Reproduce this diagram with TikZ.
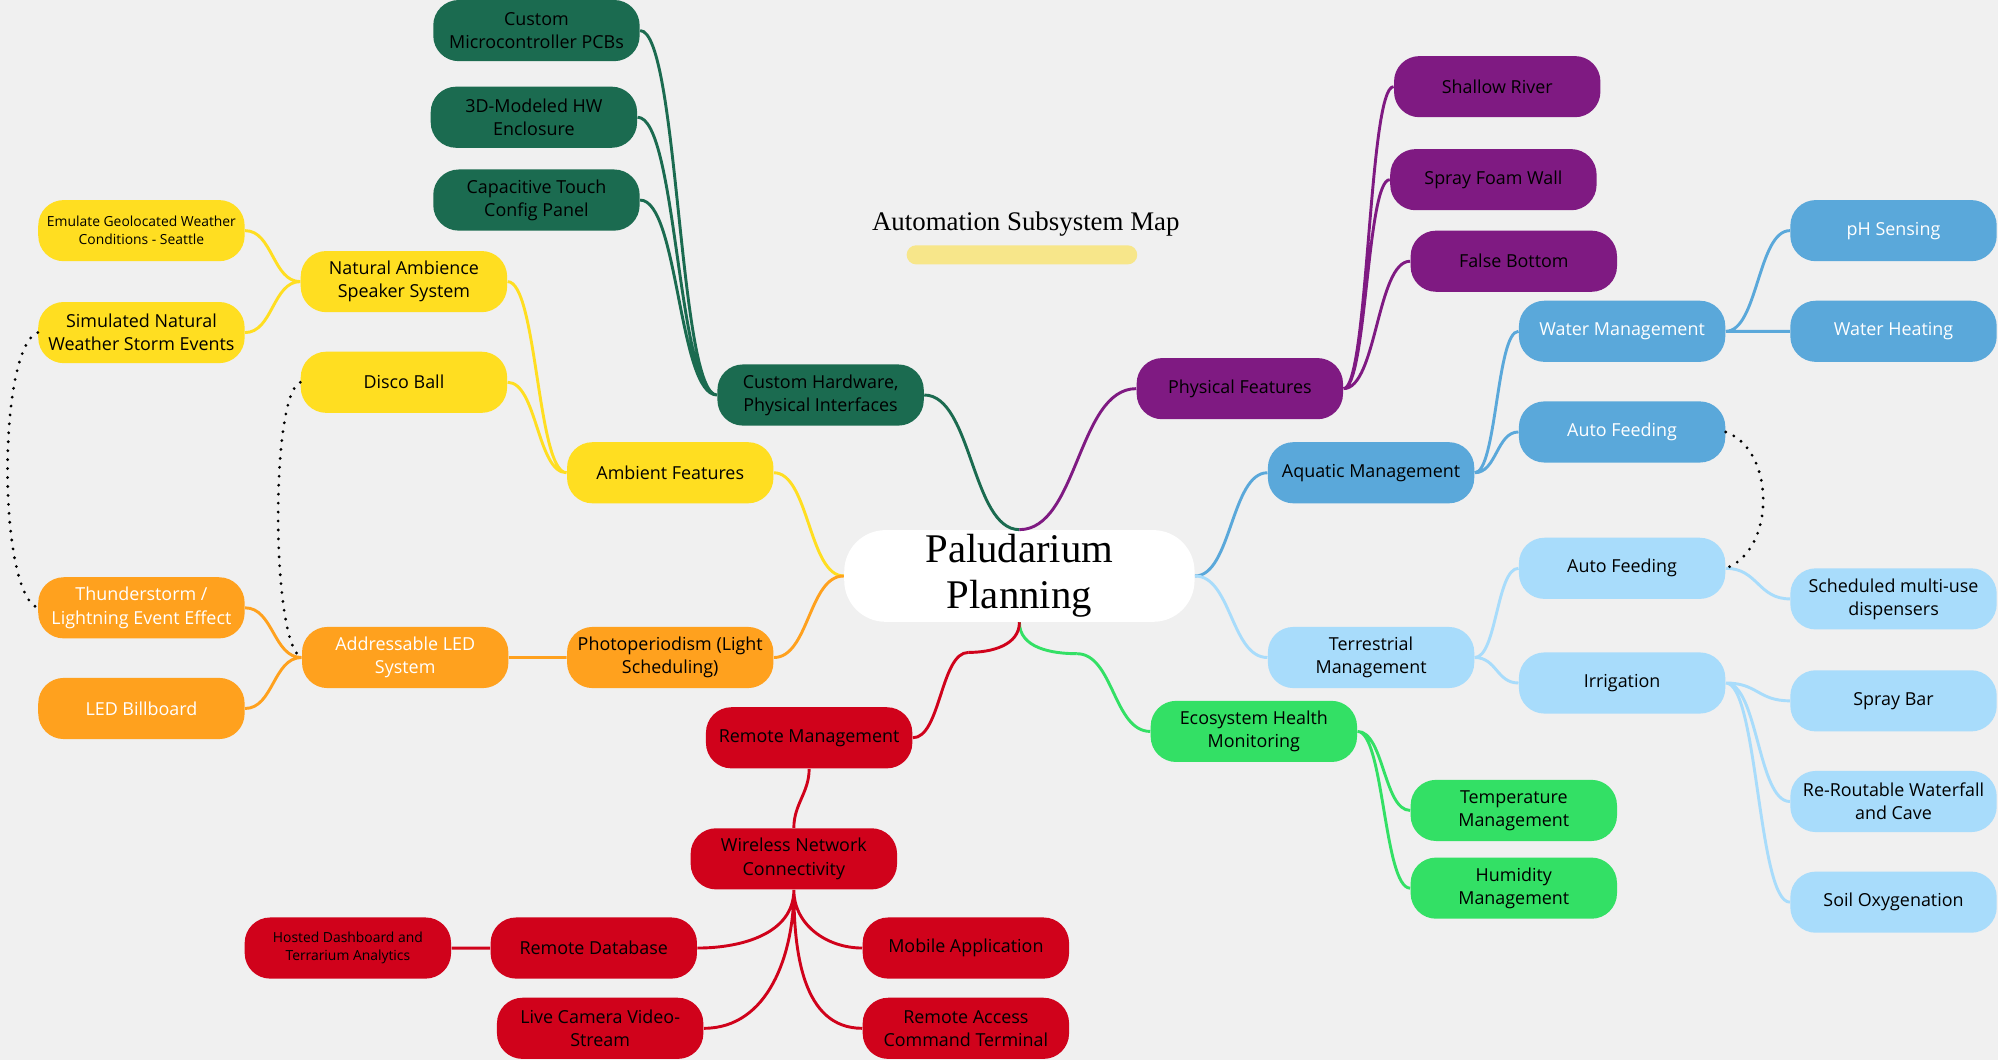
\documentclass[tikz,border=0pt]{standalone}
\usepackage{fontspec}
\setmainfont{Open Sans}
\newfontfamily\serif{Liberation Serif}
\usepackage{tikz}
\usetikzlibrary{calc}

\definecolor{bg}{HTML}{F0F0F0}
\definecolor{hw}{HTML}{1B6B50}
\definecolor{yel}{HTML}{FFDE21}
\definecolor{ora}{HTML}{FFA11E}
\definecolor{pur}{HTML}{7F1A82}
\definecolor{blu}{HTML}{5AA8DA}
\definecolor{lbl}{HTML}{A8DCFB}
\definecolor{grn}{HTML}{33E065}
\definecolor{rd}{HTML}{D0021B}
\definecolor{bar}{HTML}{F7E68A}

\begin{document}
\begin{tikzpicture}[x=0.02cm,y=-0.02cm,
    box/.style={rounded corners=0.4cm, minimum width=3.24cm, minimum height=0.96cm, inner sep=0pt, align=center,
      font=\fontsize{8}{10.3}\selectfont},
    small/.style={font=\fontsize{6.2}{8}\selectfont},
    link/.style={line width=1.3pt, to path={let \p1=(\tikztostart), \p2=(\tikztotarget) in
      .. controls ({(\x1+\x2)/2},\y1) and ({(\x1+\x2)/2},\y2) .. (\tikztotarget)}},
    curl/.style={line width=1.3pt},
    dots/.style={line width=1.4pt, line cap=round, dash pattern=on 0pt off 4pt}]
    \useasboundingbox (0,0) rectangle (1568,832);
    \fill[bg] (0,0) rectangle (1568,832);
    %% node
    \node (0) [box, fill=white, minimum width=5.5cm, minimum height=1.44cm, rounded corners=0.65cm,
      font=\serif\fontsize{18.2}{20.5}\selectfont] at (800,452) {Paludarium\\Planning};
    \node (t) [font=\serif\fontsize{12}{14}\selectfont] at (805,176) {Automation Subsystem Map};
    \node (tb) [fill=bar, rounded corners=0.15cm, minimum width=3.62cm, minimum height=0.3cm, inner sep=0pt] at (802,200) {};
    % hardware
    \node (1) [box, fill=hw] at (421,24) {Custom\\Microcontroller PCBs};
    \node (2) [box, fill=hw] at (419,92) {3D-Modeled HW\\Enclosure};
    \node (3) [box, fill=hw] at (421,157) {Capacitive Touch\\Config Panel};
    \node (4) [box, fill=hw] at (644,310) {Custom Hardware,\\Physical Interfaces};
    % ambient
    \node (5) [box, small, fill=yel] at (111,181) {Emulate Geolocated Weather\\Conditions - Seattle};
    \node (6) [box, fill=yel] at (111,261) {Simulated Natural\\Weather Storm Events};
    \node (7) [box, fill=yel] at (317,221) {Natural Ambience\\Speaker System};
    \node (8) [box, fill=yel] at (317,300) {Disco Ball};
    \node (9) [box, fill=yel] at (526,371) {Ambient Features};
    % light
    \node (10) [box, fill=ora, text=white] at (111,477) {Thunderstorm /\\Lightning Event Effect};
    \node (11) [box, fill=ora, text=white] at (111,556) {LED Billboard};
    \node (12) [box, fill=ora, text=white] at (318,516) {Addressable LED\\System};
    \node (13) [box, fill=ora] at (526,516) {Photoperiodism (Light\\Scheduling)};
    % physical
    \node (14) [box, fill=pur] at (973,305) {Physical Features};
    \node (15) [box, fill=pur] at (1175,68) {Shallow River};
    \node (16) [box, fill=pur] at (1172,141) {Spray Foam Wall};
    \node (17) [box, fill=pur] at (1188,205) {False Bottom};
    % aquatic
    \node (18) [box, fill=blu] at (1076,371) {Aquatic Management};
    \node (19) [box, fill=blu, text=white] at (1273,260) {Water Management};
    \node (20) [box, fill=blu, text=white] at (1273,339) {Auto Feeding};
    \node (21) [box, fill=blu, text=white] at (1486,181) {pH Sensing};
    \node (22) [box, fill=blu, text=white] at (1486,260) {Water Heating};
    % terrestrial
    \node (23) [box, fill=lbl] at (1076,516) {Terrestrial\\Management};
    \node (24) [box, fill=lbl] at (1273,446) {Auto Feeding};
    \node (25) [box, fill=lbl] at (1273,536) {Irrigation};
    \node (26) [box, fill=lbl] at (1486,470) {Scheduled multi-use\\dispensers};
    \node (27) [box, fill=lbl] at (1486,550) {Spray Bar};
    \node (28) [box, fill=lbl] at (1486,629) {Re-Routable Waterfall\\and Cave};
    \node (29) [box, fill=lbl] at (1486,708) {Soil Oxygenation};
    % ecosystem
    \node (30) [box, fill=grn] at (984,574) {Ecosystem Health\\Monitoring};
    \node (31) [box, fill=grn] at (1188,636) {Temperature\\Management};
    \node (32) [box, fill=grn] at (1188,697) {Humidity\\Management};
    % remote
    \node (33) [box, fill=rd] at (635,579) {Remote Management};
    \node (34) [box, fill=rd] at (623,674) {Wireless Network\\Connectivity};
    \node (35) [box, fill=rd] at (466,744) {Remote Database};
    \node (36) [box, small, fill=rd] at (273,744) {Hosted Dashboard and\\Terrarium Analytics};
    \node (37) [box, fill=rd] at (758,744) {Mobile Application};
    \node (38) [box, fill=rd] at (471,807) {Live Camera Video-\\Stream};
    \node (39) [box, fill=rd] at (758,807) {Remote Access\\Command Terminal};
    \coordinate (rb) at (760,512);
    \coordinate (gb) at (845,513);
    %% path
    \draw[link, hw] (4.east) to (0.north)
      (4.west) to (1.east) (4.west) to (2.east) (4.west) to (3.east);
    \draw[link, pur] (0.north) to (14.west)
      (14.east) to (15.west) (14.east) to (16.west) (14.east) to (17.west);
    \draw[link, yel] (0.west) to (9.east)
      (9.west) to (7.east) (9.west) to (8.east)
      (7.west) to (5.east) (7.west) to (6.east);
    \draw[link, ora] (0.west) to (13.east)
      (13.west) to (12.east)
      (12.west) to (10.east) (12.west) to (11.east);
    \draw[link, blu] (0.east) to (18.west)
      (18.east) to (19.west) (18.east) to (20.west)
      (19.east) to (21.west) (19.east) to (22.west);
    \draw[link, lbl] (0.east) to (23.west)
      (23.east) to (24.west) (23.east) to (25.west)
      (24.east) to (26.west)
      (25.east) to (27.west) (25.east) to (28.west) (25.east) to (29.west);
    \draw[curl, grn] (0.south) to[out=270,in=180] (gb);
    \draw[link, grn] (gb) to (30.west)
      (30.east) to (31.west) (30.east) to (32.west);
    \draw[curl, rd] (0.south) to[out=270,in=0] (rb);
    \draw[link, rd] (rb) to (33.east)
      (35.west) to (36.east);
    \draw[curl, rd] (33.south) to[out=270,in=90] (34.north)
      (34.south) to[out=270,in=0] (35.east)
      (34.south) to[out=270,in=0] (38.east)
      (34.south) to[out=270,in=180] (37.west)
      (34.south) to[out=270,in=180] (39.west);
    % dotted links
    \draw[dots] (6.west) to[out=200,in=160,looseness=0.4] (10.west);
    \draw[dots] (8.west) to[out=200,in=160,looseness=0.3] (12.west);
    \draw[dots] (20.east) to[out=-20,in=20,looseness=1] (24.east);
\end{tikzpicture}
\end{document}
